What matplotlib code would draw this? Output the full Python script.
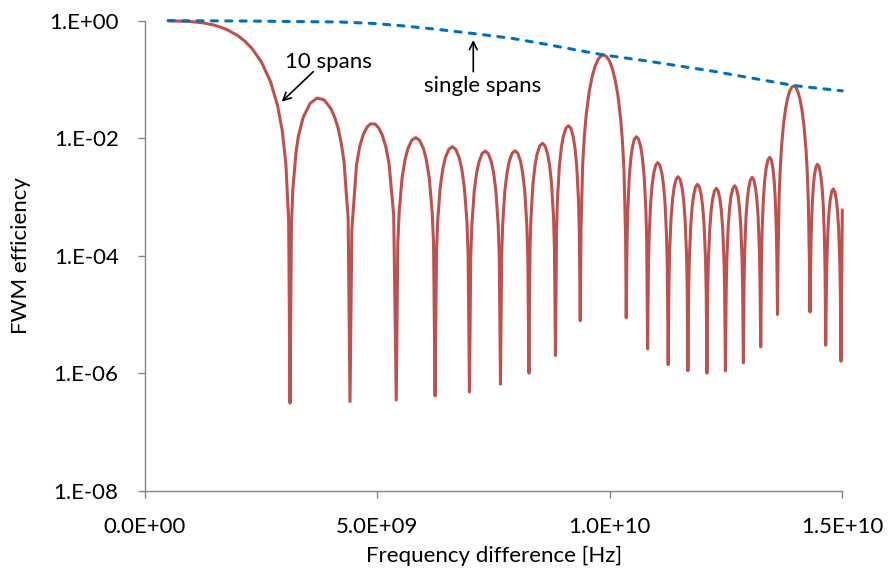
import matplotlib
matplotlib.use("Agg")
import matplotlib.pyplot as plt
from matplotlib.ticker import NullLocator

plt.rcParams["font.family"] = ["Lato", "DejaVu Sans"]

# 10 spans: frequency difference [GHz] and FWM efficiency
red_freq_ghz = [
    0.5, 1.0, 1.25, 1.5, 1.75, 2.0, 2.15, 2.3, 2.5, 2.7, 2.85, 2.95, 3.03, 3.09, 3.12,
    3.15, 3.18, 3.25, 3.3, 3.4, 3.55, 3.7, 3.85, 4.0, 4.08, 4.15, 4.22, 4.28, 4.37, 4.41,
    4.45, 4.55, 4.62, 4.7, 4.78, 4.85, 4.95, 5.03, 5.1, 5.18, 5.25, 5.35, 5.405,
    5.438, 5.468, 5.530, 5.593, 5.656, 5.739, 5.823, 5.906, 5.990, 6.052, 6.115, 6.177, 6.207, 6.24,
    6.270, 6.296, 6.351, 6.407, 6.462, 6.536, 6.61, 6.684, 6.758, 6.814, 6.869, 6.925, 6.950, 6.98,
    7.007, 7.031, 7.082, 7.133, 7.184, 7.252, 7.32, 7.385, 7.451, 7.500, 7.549, 7.598, 7.621, 7.647,
    7.672, 7.694, 7.741, 7.788, 7.835, 7.897, 7.96, 8.020, 8.080, 8.124, 8.169, 8.214, 8.235, 8.259,
    8.282, 8.303, 8.346, 8.390, 8.434, 8.492, 8.55, 8.606, 8.662, 8.704, 8.746, 8.788, 8.808, 8.83,
    8.852, 8.872, 8.914, 8.956, 8.998, 9.054, 9.11, 9.161, 9.211, 9.249, 9.287, 9.325, 9.343, 9.363,
    9.379, 9.415, 9.452, 9.493, 9.557, 9.620, 9.683, 9.746, 9.808, 9.870,
    9.931, 9.993, 10.053, 10.114, 10.174, 10.233, 10.271, 10.305, 10.338, 10.352,
    10.369, 10.385, 10.417, 10.450, 10.483, 10.526, 10.57, 10.618, 10.667, 10.703, 10.739, 10.776, 10.793, 10.812,
    10.829, 10.845, 10.877, 10.910, 10.943, 10.986, 11.03, 11.075, 11.120, 11.153, 11.187, 11.220, 11.236, 11.254,
    11.271, 11.286, 11.318, 11.350, 11.382, 11.424, 11.467, 11.509, 11.552, 11.584, 11.615, 11.647, 11.662, 11.679,
    11.695, 11.710, 11.741, 11.771, 11.802, 11.843, 11.884, 11.925, 11.966, 11.996, 12.027, 12.057, 12.072, 12.088,
    12.104, 12.118, 12.149, 12.179, 12.209, 12.250, 12.29, 12.329, 12.368, 12.398, 12.427, 12.457, 12.470, 12.486,
    12.502, 12.516, 12.546, 12.576, 12.605, 12.645, 12.685, 12.722, 12.760, 12.788, 12.816, 12.844, 12.857, 12.872,
    12.887, 12.900, 12.928, 12.957, 12.985, 13.022, 13.06, 13.097, 13.134, 13.162, 13.190, 13.217, 13.230, 13.245,
    13.261, 13.274, 13.304, 13.333, 13.362, 13.401, 13.44, 13.473, 13.507, 13.532, 13.557, 13.582, 13.594, 13.607,
    13.616, 13.641, 13.666, 13.694, 13.738, 13.783, 13.827, 13.871, 13.915, 13.958,
    14.002, 14.045, 14.089, 14.132, 14.175, 14.218, 14.245, 14.269, 14.293, 14.305,
    14.318, 14.329, 14.353, 14.377, 14.401, 14.433, 14.465, 14.501, 14.536, 14.563, 14.590, 14.616, 14.629, 14.643,
    14.656, 14.667, 14.692, 14.716, 14.740, 14.773, 14.805, 14.838, 14.872, 14.897, 14.922, 14.947, 14.959, 14.972,
    15.0,
]
red_eff = [
    0.998, 0.966, 0.918, 0.837, 0.715, 0.555, 0.447, 0.337, 0.201, 0.0917, 0.0363, 0.0139, 3.71e-3, 4.1e-4, 3.1e-7,
    3.3e-4, 1.34e-3, 5.9e-3, 1.08e-2, 2.23e-2, 3.9e-2, 4.82e-2, 4.51e-2, 3.19e-2, 2.27e-2, 1.53e-2, 8.4e-3, 4.07e-3, 4.3e-4, 3.3e-7,
    2.8e-4, 3.5e-3, 7.3e-3, 1.18e-2, 1.56e-2, 1.75e-2, 1.74e-2, 1.49e-2, 1.15e-2, 7.2e-3, 3.67e-3, 4.9e-4, 3.5e-7,
    1.6e-4, 5.56e-4, 2.1e-3, 4.30e-3, 6.68e-3, 9.23e-3, 1.02e-2, 9.23e-3, 6.68e-3, 4.30e-3, 2.1e-3, 5.56e-4, 1.6e-4, 4.1e-7,
    1.12e-4, 3.90e-4, 1.47e-3, 3.02e-3, 4.69e-3, 6.48e-3, 7.16e-3, 6.48e-3, 4.69e-3, 3.02e-3, 1.47e-3, 3.90e-4, 1.12e-4, 4.8e-7,
    9.5e-5, 3.30e-4, 1.25e-3, 2.55e-3, 3.96e-3, 5.48e-3, 6.05e-3, 5.48e-3, 3.96e-3, 2.55e-3, 1.25e-3, 3.30e-4, 9.5e-5, 6.5e-7,
    9.6e-5, 3.34e-4, 1.26e-3, 2.58e-3, 4.01e-3, 5.54e-3, 6.12e-3, 5.54e-3, 4.01e-3, 2.58e-3, 1.26e-3, 3.34e-4, 9.6e-5, 1.0e-6,
    1.29e-4, 4.46e-4, 1.69e-3, 3.45e-3, 5.36e-3, 7.41e-3, 8.19e-3, 7.41e-3, 5.36e-3, 3.45e-3, 1.69e-3, 4.46e-4, 1.29e-4, 2.0e-6,
    2.56e-4, 8.88e-4, 3.36e-3, 6.88e-3, 1.07e-2, 1.48e-2, 1.63e-2, 1.48e-2, 1.07e-2, 6.88e-3, 3.36e-3, 8.88e-4, 2.56e-4, 7.8e-6,
    2.84e-4, 3.52e-3, 1.11e-2, 2.58e-2, 6.24e-2, 0.113, 0.169, 0.218, 0.252, 0.261,
    0.244, 0.205, 0.153, 0.0983, 0.0532, 0.0211, 8.75e-3, 2.71e-3, 2.14e-4, 8.8e-6,
    1.66e-4, 5.78e-4, 2.18e-3, 4.47e-3, 6.94e-3, 9.59e-3, 1.06e-2, 9.59e-3, 6.94e-3, 4.47e-3, 2.18e-3, 5.78e-4, 1.66e-4, 2.6e-6,
    6.0e-5, 2.09e-4, 7.89e-4, 1.62e-3, 2.51e-3, 3.47e-3, 3.83e-3, 3.47e-3, 2.51e-3, 1.62e-3, 7.89e-4, 2.09e-4, 6.0e-5, 1.4e-6,
    3.5e-5, 1.20e-4, 4.55e-4, 9.32e-4, 1.45e-3, 2.0e-3, 2.21e-3, 2.0e-3, 1.45e-3, 9.32e-4, 4.55e-4, 1.20e-4, 3.5e-5, 1.1e-6,
    2.6e-5, 8.94e-5, 3.38e-4, 6.92e-4, 1.07e-3, 1.48e-3, 1.64e-3, 1.48e-3, 1.07e-3, 6.92e-4, 3.38e-4, 8.94e-5, 2.6e-5, 1.0e-6,
    2.2e-5, 7.63e-5, 2.88e-4, 5.91e-4, 9.17e-4, 1.27e-3, 1.40e-3, 1.27e-3, 9.17e-4, 5.91e-4, 2.88e-4, 7.63e-5, 2.2e-5, 1.1e-6,
    2.4e-5, 8.45e-5, 3.19e-4, 6.54e-4, 1.02e-3, 1.40e-3, 1.55e-3, 1.40e-3, 1.02e-3, 6.54e-4, 3.19e-4, 8.45e-5, 2.4e-5, 1.5e-6,
    3.4e-5, 1.18e-4, 4.45e-4, 9.11e-4, 1.41e-3, 1.95e-3, 2.16e-3, 1.95e-3, 1.41e-3, 9.11e-4, 4.45e-4, 1.18e-4, 3.4e-5, 2.8e-6,
    7.4e-5, 2.58e-4, 9.74e-4, 2.0e-3, 3.10e-3, 4.28e-3, 4.73e-3, 4.28e-3, 3.10e-3, 2.0e-3, 9.74e-4, 2.58e-4, 7.4e-5, 1.0e-5,
    8.0e-5, 1.0e-3, 3.17e-3, 7.44e-3, 1.81e-2, 3.28e-2, 4.92e-2, 6.41e-2, 7.43e-2, 7.74e-2,
    7.30e-2, 6.18e-2, 4.66e-2, 3.04e-2, 1.65e-2, 6.65e-3, 2.80e-3, 8.75e-4, 6.95e-5, 1.1e-5,
    5.7e-5, 1.96e-4, 7.42e-4, 1.52e-3, 2.36e-3, 3.26e-3, 3.60e-3, 3.26e-3, 2.36e-3, 1.52e-3, 7.42e-4, 1.96e-4, 5.7e-5, 3.0e-6,
    2.15e-5, 7.47e-5, 2.82e-4, 5.78e-4, 8.97e-4, 1.24e-3, 1.37e-3, 1.24e-3, 8.97e-4, 5.78e-4, 2.82e-4, 7.47e-5, 2.15e-5, 1.6e-6,
    6.0e-4,
]

# single span envelope
blue_freq_ghz = [0.5, 2.0, 4.2, 4.9, 5.6, 6.3, 7.1, 7.9, 8.6, 9.35, 9.87,
                 10.8, 11.5, 12.2, 12.95, 13.95, 14.4, 15.0]
blue_eff = [1.0, 0.99, 0.95, 0.90, 0.81, 0.71, 0.60, 0.50, 0.40, 0.31, 0.261,
            0.206, 0.169, 0.139, 0.109, 0.079, 0.072, 0.064]

x_ticks = [0.0, 5e9, 1e10, 1.5e10]
x_tick_labels = ["0.0E+00", "5.0E+09", "1.0E+10", "1.5E+10"]
y_ticks = [1e-8, 1e-6, 1e-4, 1e-2, 1.0]
y_tick_labels = ["1.E-08", "1.E-06", "1.E-04", "1.E-02", "1.E+00"]

RED = "#C0504D"
BLUE = "#0070C0"
GREY = "#868686"
FS = 16

fig = plt.figure(figsize=(8.88, 5.81), dpi=100)
ax = fig.add_axes([145 / 888, 1 - 490.7 / 581, 697.3 / 888, 470 / 581])

ax.plot([f * 1e9 for f in red_freq_ghz], red_eff, color=RED, lw=2.2,
        solid_capstyle="round", solid_joinstyle="round", clip_on=False, zorder=2)
ax.plot([f * 1e9 for f in blue_freq_ghz], blue_eff, color=BLUE, lw=2.2,
        dashes=(2.0, 2.7), dash_capstyle="round", clip_on=False, zorder=3)

ax.set_yscale("log")
ax.set_xlim(0, 1.5e10)
ax.set_ylim(1e-8, 1)
ax.set_xticks(x_ticks)
ax.set_xticklabels(x_tick_labels)
ax.set_yticks(y_ticks)
ax.set_yticklabels(y_tick_labels)
ax.yaxis.set_minor_locator(NullLocator())
ax.xaxis.set_minor_locator(NullLocator())

for side in ("top", "right"):
    ax.spines[side].set_visible(False)
for side in ("left", "bottom"):
    ax.spines[side].set_color(GREY)
    ax.spines[side].set_linewidth(1.0)
ax.tick_params(axis="both", direction="out", length=5, width=1.0, color=GREY,
               labelsize=FS, labelcolor="black")
ax.tick_params(axis="y", pad=14)
ax.tick_params(axis="x", pad=14)

ax.set_xlabel("Frequency difference [Hz]", fontsize=FS)
ax.set_ylabel("FWM efficiency", fontsize=FS)
ax.xaxis.set_label_coords(0.5, -0.117)
ax.yaxis.set_label_coords(-0.163, 0.5)

arrow = dict(arrowstyle="->", color="black", lw=1.2, shrinkA=0, shrinkB=0,
             mutation_scale=14)
ax.annotate("", xy=(2.94e9, 0.0418), xytext=(3.62e9, 0.1355), arrowprops=arrow)
ax.text(3.94e9, 0.198, "10 spans", fontsize=FS, ha="center", va="center")
ax.annotate("", xy=(7.062e9, 0.469), xytext=(7.062e9, 0.1355), arrowprops=arrow)
ax.text(7.27e9, 0.0774, "single spans", fontsize=FS, ha="center", va="center")

fig.savefig("out.png", dpi=100)
